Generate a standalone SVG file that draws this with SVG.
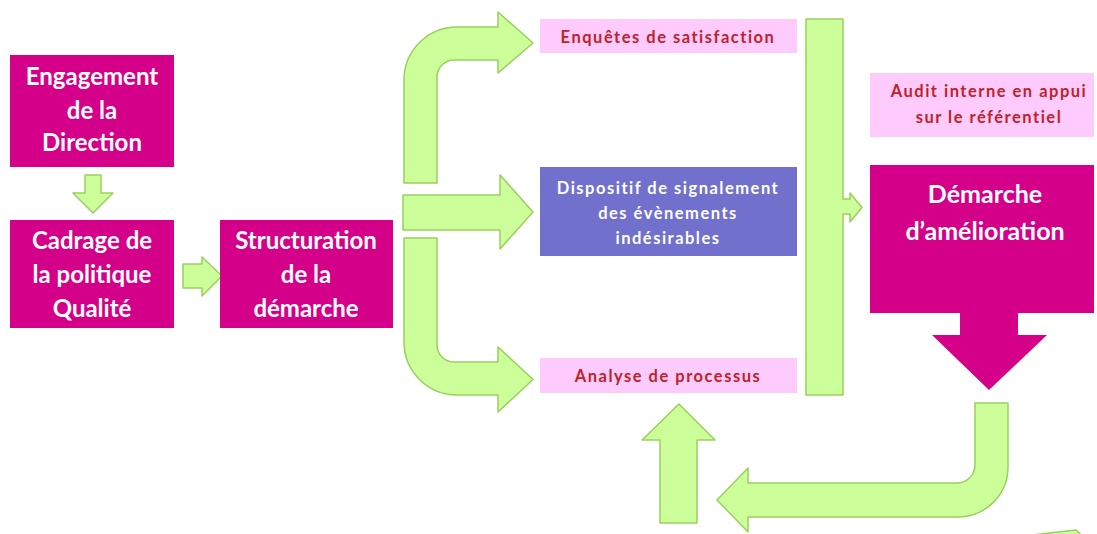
<svg xmlns="http://www.w3.org/2000/svg" width="1097" height="534" viewBox="0 0 1097 534">
<style>
.mag{fill:#D5008A}
.pink{fill:#FFCBFD}
.blue{fill:#7171CD}
.arr{fill:#CCFF99;stroke:#9ACF5E;stroke-width:1.5;stroke-linejoin:round}
.tw{font-family:Lato,"Open Sans","Liberation Sans",sans-serif;font-weight:bold;fill:#FFFFFF;text-anchor:middle}
.big{font-size:24px}
.dem{font-size:25px}
.small{font-family:Lato,"Open Sans","Liberation Sans",sans-serif;font-weight:bold;font-size:16.5px;letter-spacing:1.5px;text-anchor:middle}
.red{fill:#BE2228}
.wh{fill:#FFFFFF}
</style>
<rect width="1097" height="534" fill="#FFFFFF"/>

<g id="connectors">
  <path class="arr" d="M85,175 H101 V193 H113 L93,213 L73,193 H85 Z"/>
  <path class="arr" d="M183,264 H202 V257 L222,276 L202,296 V288 H183 Z"/>
  <path class="arr" d="M404,183 V80 A53,53 0 0 1 457,27 H498 V12 L533,43 L498,73 V60 H454 A17,17 0 0 0 437,77 V183 Z"/>
  <path class="arr" d="M403,195 H500 V175 L533,212 L500,249 V230 H403 Z"/>
  <path class="arr" d="M404,238 H437 V345 A17,17 0 0 0 454,362 H498 V347 L533,379.5 L498,412 V395 H457 A53,53 0 0 1 404,342 Z"/>
  <path class="arr" d="M806,19 H843 V199 H850 V193 L862,207.5 L850,222 V214 H843 V395 H806 Z"/>
  <path class="arr" d="M975,403 H1008 V467 A50,50 0 0 1 958,517 H748 V532 L717,500 L748,468 V483 H957 A18,18 0 0 0 975,465 Z"/>
  <path class="arr" d="M660,523 V440 H642 L679,404 L715,440 H697 V523 Z"/>
  <path class="arr" d="M1032,535 L1076,530 L1081,535 Z"/>
</g>

<g id="engagement">
  <rect class="mag" x="10" y="55" width="164" height="112"/>
  <text class="tw big" x="92" y="85">Engagement</text>
  <text class="tw big" x="92" y="119">de la</text>
  <text class="tw big" x="92" y="151">Direction</text>
</g>

<g id="cadrage">
  <rect class="mag" x="10" y="220" width="164" height="108"/>
  <text class="tw big" x="92" y="249">Cadrage de</text>
  <text class="tw big" x="92" y="283">la politique</text>
  <text class="tw big" x="92" y="317">Qualité</text>
</g>

<g id="structuration">
  <rect class="mag" x="220" y="220" width="173" height="108"/>
  <text class="tw big" x="306" y="249">Structuration</text>
  <text class="tw big" x="306" y="283">de la</text>
  <text class="tw big" x="306" y="317">démarche</text>
</g>

<g id="enquetes">
  <rect class="pink" x="540" y="19" width="257" height="34"/>
  <text class="small red" x="668" y="43">Enquêtes de satisfaction</text>
</g>

<g id="dispositif">
  <rect class="blue" x="540" y="167" width="257" height="89"/>
  <text class="small wh" x="668" y="194">Dispositif de signalement</text>
  <text class="small wh" x="668" y="219">des évènements</text>
  <text class="small wh" x="668" y="244">indésirables</text>
</g>

<g id="analyse">
  <rect class="pink" x="540" y="358" width="257" height="35"/>
  <text class="small red" x="668" y="382">Analyse de processus</text>
</g>

<g id="audit">
  <rect class="pink" x="870" y="73" width="224" height="64"/>
  <text class="small red" x="989" y="97">Audit interne en appui</text>
  <text class="small red" x="989" y="123">sur le référentiel</text>
</g>

<g id="demarche">
  <path class="mag" d="M870,165 H1094 V313 H1018 V335 H1047 L989,390 L932,335 H960 V313 H870 Z"/>
  <text class="tw dem" x="985" y="203">Démarche</text>
  <text class="tw dem" x="985" y="240">d’amélioration</text>
</g>
</svg>
